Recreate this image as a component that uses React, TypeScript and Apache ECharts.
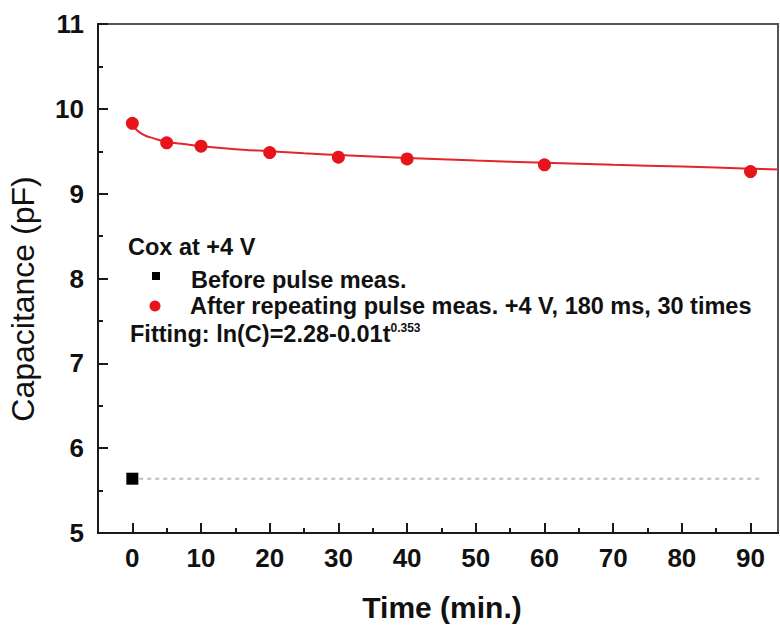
import React, { useEffect, useRef } from "react";
import * as echarts from "echarts";

// ---- data ----
const afterTimes = [0, 5, 10, 20, 30, 40, 60, 90];
const afterValues = [9.83, 9.6, 9.56, 9.485, 9.43, 9.41, 9.34, 9.26];

const fitTimes = [0.3, 1, 2, 3, 5, 7.5, 10, 15, 20, 25, 30, 40, 50, 60, 70, 80, 90, 94];
const fitValues = [9.78, 9.725, 9.68, 9.655, 9.61, 9.585, 9.56, 9.525, 9.5, 9.475, 9.455, 9.42, 9.39, 9.365, 9.34, 9.32, 9.295, 9.285];

const beforeTimes = [0];
const beforeValues = [5.64];

const beforeRefTimes = [1, 91.5];
const beforeRefValues = [5.64, 5.64];

const xMajorTicks = [0, 10, 20, 30, 40, 50, 60, 70, 80, 90];
const xMinorTicks = [5, 15, 25, 35, 45, 55, 65, 75, 85];

const FONT = '"Liberation Sans", Arial, Helvetica, sans-serif';

export default function App() {
  const ref = useRef<HTMLDivElement>(null);

  useEffect(() => {
    if (!ref.current) return;
    const chart = echarts.init(ref.current, null, { renderer: "svg" });

    const zip = (xs: number[], ys: number[]) => xs.map((x, i) => [x, ys[i]]);
    const gridRect = { left: 98, right: 2, top: 24, bottom: 95 };

    const option: any = {
      animation: false,
      backgroundColor: "#ffffff",
      grid: [
        {
          ...gridRect,
          show: true,
          borderColor: "#555",
          borderWidth: 2,
          backgroundColor: "transparent",
        },
        { ...gridRect, show: false },
      ],
      xAxis: [
        {
          gridIndex: 0,
          type: "value",
          min: -5,
          max: 94,
          position: "bottom",
          axisLine: { show: true, onZero: false, lineStyle: { color: "#1a1a1a", width: 2 } },
          axisTick: {
            show: true,
            inside: true,
            length: 10,
            customValues: xMajorTicks,
            lineStyle: { color: "#1a1a1a", width: 2 },
          },
          axisLabel: {
            show: true,
            customValues: xMajorTicks,
            margin: 12,
            fontFamily: FONT,
            fontWeight: "bold",
            fontSize: 26,
            color: "#111",
          },
          splitLine: { show: false },
        },
        {
          // short (minor) ticks, in an overlaid grid of the same size
          gridIndex: 1,
          type: "value",
          min: -5,
          max: 94,
          position: "bottom",
          axisLine: { show: true, onZero: false, lineStyle: { color: "#1a1a1a", width: 2 } },
          axisTick: {
            show: true,
            inside: true,
            length: 5,
            customValues: xMinorTicks,
            lineStyle: { color: "#1a1a1a", width: 2 },
          },
          axisLabel: { show: false },
          splitLine: { show: false },
        },
      ],
      yAxis: [
        {
          gridIndex: 0,
          type: "value",
          min: 5,
          max: 11,
          interval: 1,
          axisLine: { show: true, onZero: false, lineStyle: { color: "#1a1a1a", width: 2 } },
          axisTick: { show: true, inside: true, length: 10, lineStyle: { color: "#1a1a1a", width: 2 } },
          minorTick: { show: true, splitNumber: 2, length: 5, lineStyle: { color: "#1a1a1a", width: 2 } },
          axisLabel: {
            margin: 14,
            fontFamily: FONT,
            fontWeight: "bold",
            fontSize: 26,
            color: "#111",
          },
          splitLine: { show: false },
        },
        {
          gridIndex: 1,
          type: "value",
          min: 5,
          max: 11,
          interval: 1,
          axisLine: { show: false },
          axisTick: { show: false },
          axisLabel: { show: false },
          splitLine: { show: false },
        },
      ],
      series: [
        {
          name: "before-ref",
          type: "line",
          xAxisIndex: 1,
          yAxisIndex: 1,
          data: zip(beforeRefTimes, beforeRefValues),
          symbol: "none",
          lineStyle: { color: "#bdbdbd", width: 2, type: [4, 4] },
          silent: true,
        },
        {
          name: "fit",
          type: "line",
          xAxisIndex: 0,
          yAxisIndex: 0,
          data: zip(fitTimes, fitValues),
          symbol: "none",
          smooth: 0.3,
          lineStyle: { color: "#e3262b", width: 2 },
          silent: true,
          z: 3,
        },
        {
          name: "Before pulse meas.",
          type: "scatter",
          xAxisIndex: 0,
          yAxisIndex: 0,
          data: zip(beforeTimes, beforeValues),
          symbol: "rect",
          symbolSize: 12,
          itemStyle: { color: "#000", opacity: 1 },
          z: 4,
        },
        {
          name: "After repeating pulse meas.",
          type: "scatter",
          xAxisIndex: 0,
          yAxisIndex: 0,
          data: zip(afterTimes, afterValues),
          symbol: "circle",
          symbolSize: 13,
          itemStyle: { color: "#e8141b", opacity: 1 },
          z: 5,
        },
      ],
      graphic: [
        {
          type: "text",
          x: 23,
          y: 299,
          rotation: Math.PI / 2,
          style: {
            text: "Capacitance (pF)",
            font: `32px ${FONT}`,
            fill: "#111",
            align: "center",
            verticalAlign: "middle",
            textAlign: "center",
            textVerticalAlign: "middle",
          },
        },
        {
          type: "text",
          x: 442,
          y: 607,
          style: {
            text: "Time (min.)",
            font: `bold 30px ${FONT}`,
            fill: "#111",
            align: "center",
            verticalAlign: "middle",
            textAlign: "center",
            textVerticalAlign: "middle",
          },
        },
        {
          type: "text",
          x: 128,
          y: 247,
          style: {
            text: "Cox at +4 V",
            font: `bold 23.5px ${FONT}`,
            fill: "#111",
            align: "left",
            verticalAlign: "middle",
            textAlign: "left",
            textVerticalAlign: "middle",
          },
        },
        {
          type: "rect",
          shape: { x: 152, y: 272, width: 8, height: 8 },
          style: { fill: "#000" },
        },
        {
          type: "text",
          x: 191,
          y: 280,
          style: {
            text: "Before pulse meas.",
            font: `bold 23.5px ${FONT}`,
            fill: "#111",
            align: "left",
            verticalAlign: "middle",
            textAlign: "left",
            textVerticalAlign: "middle",
          },
        },
        {
          type: "circle",
          shape: { cx: 155, cy: 306, r: 5.5 },
          style: { fill: "#e8141b" },
        },
        {
          type: "text",
          x: 190,
          y: 306,
          style: {
            text: "After repeating pulse meas. +4 V, 180 ms, 30 times",
            font: `bold 23.5px ${FONT}`,
            fill: "#111",
            align: "left",
            verticalAlign: "middle",
            textAlign: "left",
            textVerticalAlign: "middle",
          },
        },
        {
          type: "text",
          x: 130,
          y: 334,
          style: {
            text: "{a|Fitting: ln(C)=2.28-0.01t}{b|0.353}",
            fill: "#111",
            align: "left",
            verticalAlign: "middle",
            textAlign: "left",
            textVerticalAlign: "middle",
            rich: {
              a: { fontFamily: FONT, fontWeight: "bold", fontSize: 23.5, fill: "#111", color: "#111" },
              b: { fontFamily: FONT, fontWeight: "bold", fontSize: 12, fill: "#111", color: "#111", verticalAlign: "top" },
            },
          },
        },
      ],
    };

    chart.setOption(option);
    return () => chart.dispose();
  }, []);

  return (
    <div
      ref={ref}
      style={{ position: "fixed", left: 0, top: 0, width: 780, height: 628, background: "#fff" }}
    />
  );
}
